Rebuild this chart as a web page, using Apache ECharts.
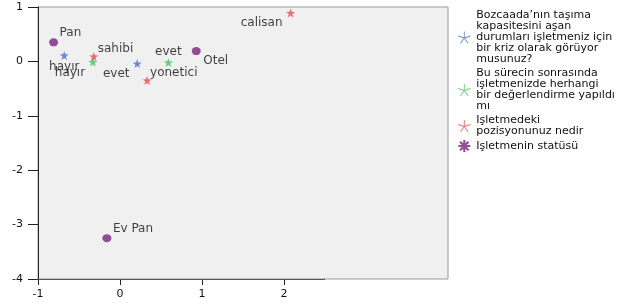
<!DOCTYPE html>
<html>
<head>
<meta charset="utf-8">
<script src="https://cdn.jsdelivr.net/npm/echarts@6/dist/echarts.min.js"></script>
<style>
  html, body { margin: 0; padding: 0; background: #fff; }
  #chart { width: 625px; height: 304px; }
</style>
</head>
<body>
<div id="chart"></div>
<script>
  // category labels and coordinates (dimension 1 / dimension 2)
  var blueNames = ['hayır', 'evet']
  var blueX = [-0.68, 0.21]
  var blueY = [0.11, -0.04]

  var greenNames = ['hayır', 'evet']
  var greenX = [-0.33, 0.59]
  var greenY = [-0.01, -0.02]

  var redNames = ['sahibi', 'yonetici', 'calisan']
  var redX = [-0.32, 0.33, 2.08]
  var redY = [0.09, -0.35, 0.89]

  var purpleNames = ['Pan', 'Otel', 'Ev Pan']
  var purpleX = [-0.81, 0.93, -0.16]
  var purpleY = [0.35, 0.19, -3.25]

  var seriesNames = [
    'Bozcaada’nın taşıma\nkapasitesini aşan\ndurumları işletmeniz için\nbir kriz olarak görüyor\nmusunuz?',
    'Bu sürecin sonrasında\nişletmenizde herhangi\nbir değerlendirme yapıldı\nmı',
    'Işletmedeki\npozisyonunuz nedir',
    'Işletmenin statüsü'
  ]
  var xTicks = [-1, 0, 1, 2]

  // label placement per point: [dx, dy, align]
  var blueLab = [[0, 11, 'center'], [-21, 10, 'center']]
  var greenLab = [[-23, 11, 'center'], [0, -11, 'center']]
  var redLab = [[4, -8, 'left'], [3, -8, 'left'], [-8, 10, 'right']]
  var purpleLab = [[6, -9, 'left'], [7, 10, 'left'], [6, -9, 'left']]

  function starPath () {
    var s = 'path://'
    for (var i = 0; i < 10; i++) {
      var a = (-90 + i * 36) * Math.PI / 180
      var r = i % 2 === 0 ? 10 : 4
      s += (i === 0 ? 'M' : 'L') + (10 + r * Math.cos(a)).toFixed(2) + ',' + (10 + r * Math.sin(a)).toFixed(2)
    }
    return s + 'Z'
  }

  function asterisk (n, w) {
    var s = 'path://'
    for (var i = 0; i < n; i++) {
      var a = (-90 + i * 360 / n) * Math.PI / 180
      var px = -Math.sin(a) * w, py = Math.cos(a) * w
      var ex = 10 + Math.cos(a) * 10, ey = 10 + Math.sin(a) * 10
      s += 'M' + (10 + px).toFixed(2) + ',' + (10 + py).toFixed(2) +
        'L' + (ex + px).toFixed(2) + ',' + (ey + py).toFixed(2) +
        'L' + (ex - px).toFixed(2) + ',' + (ey - py).toFixed(2) +
        'L' + (10 - px).toFixed(2) + ',' + (10 - py).toFixed(2) + 'Z'
    }
    return s
  }

  function buildData (names, xs, ys, labs) {
    var out = []
    for (var i = 0; i < names.length; i++) {
      out.push({
        value: [xs[i], ys[i]],
        name: names[i],
        label: {
          offset: [labs[i][0], labs[i][1]],
          align: labs[i][2]
        }
      })
    }
    return out
  }

  var labelStyle = {
    show: true,
    position: 'inside',
    verticalAlign: 'middle',
    formatter: '{b}',
    color: '#111',
    fontSize: 12,
    fontFamily: 'DejaVu Sans'
  }

  var colors = ['#4a6fd3', '#3ec85c', '#f04a4a', '#7c2181']
  var star = starPath()

  var myChart = echarts.init(document.getElementById('chart'), null, { renderer: 'canvas' })
  var option = {
    animation: false,
    color: colors,
    textStyle: { fontFamily: 'DejaVu Sans' },
    grid: {
      left: 38,
      right: 177,
      top: 7,
      bottom: 25,
      show: true,
      backgroundColor: '#f0f0f0',
      borderColor: '#999',
      borderWidth: 1
    },
    legend: {
      orient: 'vertical',
      left: 453,
      top: 5,
      itemWidth: 14,
      itemHeight: 12,
      itemGap: 3,
      textStyle: { fontSize: 11, lineHeight: 11, color: '#111', fontFamily: 'DejaVu Sans' },
      data: [
        { name: seriesNames[0], icon: asterisk(5, 0.7) },
        { name: seriesNames[1], icon: asterisk(5, 0.7) },
        { name: seriesNames[2], icon: asterisk(5, 0.7) },
        { name: seriesNames[3], icon: asterisk(8, 1.8) }
      ]
    },
    xAxis: {
      type: 'value',
      min: -1,
      max: 4,
      interval: 1,
      splitLine: { show: false },
      axisLine: { show: false, onZero: false },
      axisTick: { show: true, length: 6, customValues: xTicks, lineStyle: { color: '#222' } },
      axisLabel: { customValues: xTicks, color: '#111', fontSize: 11, margin: 10 }
    },
    yAxis: {
      type: 'value',
      min: -4,
      max: 1,
      interval: 1,
      splitLine: { show: false },
      axisLine: { show: true, onZero: false, lineStyle: { color: '#222' } },
      axisTick: { show: true, length: 10, lineStyle: { color: '#222' } },
      axisLabel: { color: '#111', fontSize: 11, margin: 15 }
    },
    series: [
      {
        name: seriesNames[0],
        type: 'scatter',
        symbol: star,
        symbolSize: 9,
        label: labelStyle,
        data: buildData(blueNames, blueX, blueY, blueLab),
        markLine: {
          silent: true,
          symbol: 'none',
          label: { show: false },
          lineStyle: { color: '#555', width: 1, type: 'solid' },
          data: [[{ coord: [-1, -4] }, { coord: [2.5, -4] }]]
        }
      },
      {
        name: seriesNames[1],
        type: 'scatter',
        symbol: star,
        symbolSize: 9,
        label: labelStyle,
        data: buildData(greenNames, greenX, greenY, greenLab)
      },
      {
        name: seriesNames[2],
        type: 'scatter',
        symbol: star,
        symbolSize: 9,
        label: labelStyle,
        data: buildData(redNames, redX, redY, redLab)
      },
      {
        name: seriesNames[3],
        type: 'scatter',
        symbol: 'circle',
        symbolSize: [9, 8],
        label: labelStyle,
        data: buildData(purpleNames, purpleX, purpleY, purpleLab)
      }
    ]
  }
  myChart.setOption(option)
</script>
</body>
</html>
